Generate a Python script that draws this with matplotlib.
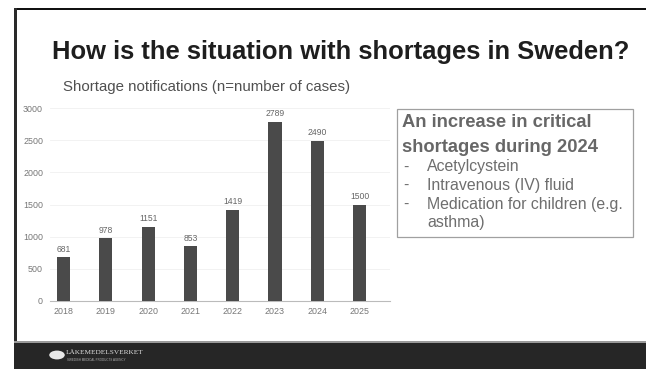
import matplotlib.pyplot as plt
from matplotlib.patches import Rectangle, Circle

# data
years = ["2018", "2019", "2020", "2021", "2022", "2023", "2024", "2025"]
cases = [681, 978, 1151, 853, 1419, 2789, 2490, 1500]
yticks = [0, 500, 1000, 1500, 2000, 2500, 3000]

plt.rcParams["font.family"] = ["Liberation Sans", "DejaVu Sans"]

W, H = 646, 369
fig = plt.figure(figsize=(W / 100, H / 100), dpi=100)
fig.patch.set_facecolor("white")


def fx(px):
    return px / W


def fy(py):
    return 1 - py / H


# slide frame: top line, left edge, footer
fig.add_artist(Rectangle((fx(14), fy(10)), 1, fy(8) - fy(10), transform=fig.transFigure,
                         color="#111111", lw=0))
fig.add_artist(Rectangle((fx(14), 0), fx(2.5), fy(8), transform=fig.transFigure,
                         color="#2a2a2a", lw=0))
fig.add_artist(Rectangle((fx(14), 0), 1, fy(343), transform=fig.transFigure,
                         color="#262626", lw=0))
fig.add_artist(Rectangle((fx(14), fy(343)), 1, fy(341) - fy(343), transform=fig.transFigure,
                         color="#9a9a9a", lw=0))

# footer logo
fig.add_artist(Circle((fx(57), fy(355)), 0.012, transform=fig.transFigure,
                      color="#e8e8e8", lw=0))
fig.text(fx(66), fy(353), "LÄKEMEDELSVERKET", fontsize=5.2, color="#e0e0e0",
         family="Liberation Serif", va="center", ha="left")
fig.text(fx(67), fy(360), "SWEDISH MEDICAL PRODUCTS AGENCY", fontsize=2.2, color="#b0b0b0",
         va="center", ha="left")

# titles
fig.text(fx(52), fy(52), "How is the situation with shortages in Sweden?",
         fontsize=18.4, fontweight="bold", color="#1e1e1e", va="center", ha="left")
fig.text(fx(63), fy(87), "Shortage notifications (n=number of cases)",
         fontsize=10.8, color="#505050", va="center", ha="left")

# text box
fig.add_artist(Rectangle((fx(397), fy(237)), fx(633) - fx(397), fy(109) - fy(237),
                         transform=fig.transFigure, fill=False, ec="#a0a0a0", lw=0.9))
fig.text(fx(402), fy(123), "An increase in critical", fontsize=13.2, fontweight="bold",
         color="#676767", va="center", ha="left")
fig.text(fx(402), fy(147), "shortages during 2024", fontsize=13.2, fontweight="bold",
         color="#676767", va="center", ha="left")
items = ["Acetylcystein", "Intravenous (IV) fluid", "Medication for children (e.g."]
for i, item in enumerate(items):
    fig.text(fx(403), fy(167 + 18.5 * i), "-", fontsize=11.4, color="#6e6e6e", va="center")
    fig.text(fx(427), fy(167 + 18.5 * i), item, fontsize=11.4, color="#6e6e6e", va="center")
fig.text(fx(427), fy(222.5), "asthma)", fontsize=11.4, color="#6e6e6e", va="center")

# bar chart
ax = fig.add_axes([fx(50), fy(301), fx(390) - fx(50), fy(108) - fy(301)])
x = range(len(years))
ax.bar(x, cases, width=0.31, color="#4a4a4a", zorder=3)
for xi, v in zip(x, cases):
    ax.text(xi, v + 55, str(v), ha="center", va="bottom", fontsize=6.2, color="#666666")

ax.set_xlim(-0.32, 7.72)
ax.set_ylim(0, 3000)
ax.set_yticks(yticks)
ax.set_xticks(list(x))
ax.set_xticklabels(years)
ax.tick_params(axis="both", length=0, labelsize=6.4, labelcolor="#777777")
ax.tick_params(axis="y", pad=5)
ax.tick_params(axis="x", pad=4)
ax.grid(axis="y", color="#f0f0f0", lw=0.6, zorder=0)
for s in ["top", "right", "left"]:
    ax.spines[s].set_visible(False)
ax.spines["bottom"].set_color("#bbbbbb")
ax.spines["bottom"].set_linewidth(0.8)

fig.savefig("out.png", dpi=100)
